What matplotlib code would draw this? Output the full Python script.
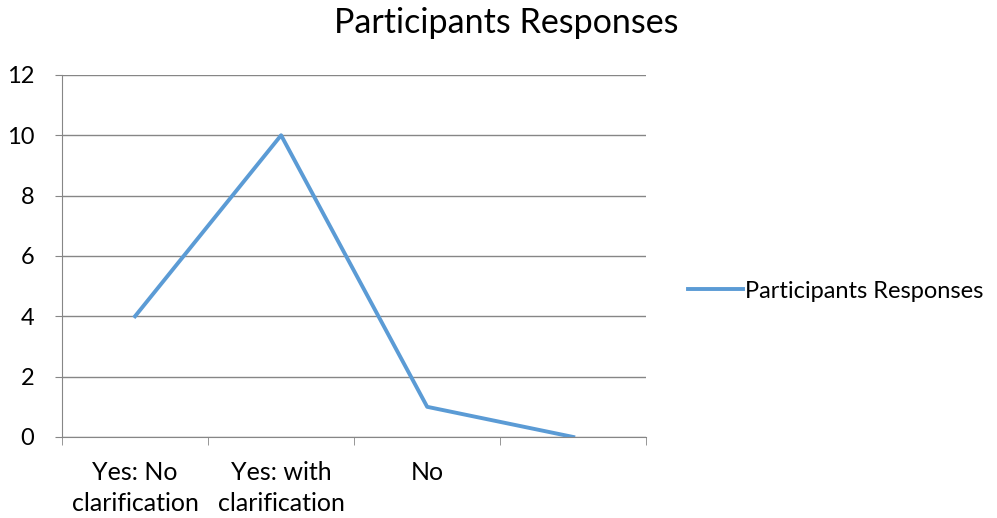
import matplotlib.pyplot as plt
import numpy as np

plt.rcParams['font.family'] = ['Lato', 'DejaVu Sans']

categories = ['Yes: No\nclarification', 'Yes: with\nclarification', 'No', '']
responses = [4, 10, 1, 0]
series_name = 'Participants Responses'

fig = plt.figure(figsize=(9.97, 5.18), dpi=100)
ax = fig.add_axes([0.0622, 0.1564, 0.586, 0.699])

x = np.arange(len(categories))
line, = ax.plot(x, responses, color='#5B9BD5', lw=2.8, label=series_name)

ax.set_xlim(-0.5, len(categories) - 0.5)
ax.set_ylim(0, 12)
ax.set_yticks(range(0, 13, 2))
ax.tick_params(axis='y', labelsize=17, length=5, color='#868686', pad=15)
ax.yaxis.grid(True, color='#868686', lw=1)
ax.set_axisbelow(True)

# category labels in the middle, tick marks on the boundaries
ax.set_xticks(x)
ax.set_xticklabels(categories, fontsize=18, linespacing=1.45)
ax.tick_params(axis='x', length=0, pad=17)
ax.set_xticks(np.arange(-0.5, len(categories)), minor=True)
ax.tick_params(axis='x', which='minor', length=6, color='#868686', direction='out')

for s in ['top', 'right']:
    ax.spines[s].set_visible(False)
for s in ['left', 'bottom']:
    ax.spines[s].set_color('#868686')

fig.text(0.508, 0.955, series_name, ha='center', va='center', fontsize=24.5)

fig.legend(handles=[line], loc='center left', bbox_to_anchor=(0.669, 0.438),
           frameon=False, fontsize=17, handlelength=2.3, handletextpad=0.1)

fig.savefig('out.png', dpi=100)
